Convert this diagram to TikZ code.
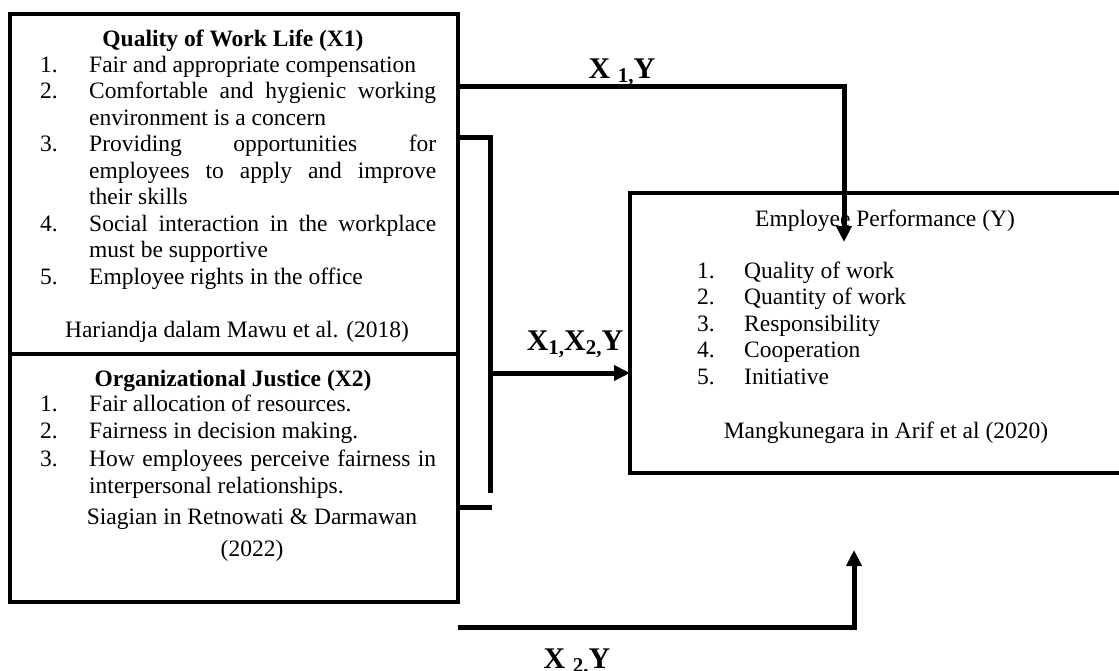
\documentclass[tikz,border=0pt]{standalone}
\usepackage{fontspec}
\setmainfont{Liberation Serif}
\usepackage{tikz}
\usetikzlibrary{positioning, calc, arrows.meta}
\tolerance=10000
\hyphenpenalty=10000
\newcommand{\bodyfont}{\fontsize{23.5}{26.5}\selectfont}
\newcommand{\linkfont}{\fontsize{30}{32}\selectfont\bfseries}
\newcommand{\lowidx}[1]{\raisebox{-4pt}{\fontsize{21}{21}\selectfont #1}}
\newcommand{\entry}[2]{\hangindent=49pt\hangafter=1\makebox[49pt][l]{#1}#2\par}

\begin{document}
\begin{tikzpicture}[x=1pt, y=-1pt,
	box/.style={draw, line width=4pt, inner sep=0pt, outer sep=0pt, anchor=north west},
	txt/.style={inner sep=0pt, font=\bodyfont},
	list/.style={txt, anchor=base west, text width=396pt, align=justify},
	conn/.style={line width=5pt},
	tip/.style={-{Triangle[width=15pt, length=16pt]}},
	lab/.style={inner sep=0pt, anchor=base, font=\linkfont}]
		\useasboundingbox (0,0) rectangle (1119,670);
		\node[box, minimum width=448pt, minimum height=340pt] (qwl) at (10,14) {};
		\node[box, minimum width=448pt, minimum height=248pt] (oj) at (10,354) {};
		\node[box, minimum width=520pt, minimum height=280pt] (perf) at (630,193) {};
		
		\node[txt, anchor=base, font=\bodyfont\bfseries] (qwltitle) at (233,46) {Quality of Work Life (X1)};
		\node[list] (qwllist) at (40,72) {\entry{1.}{Fair and appropriate compensation}\entry{2.}{Comfortable and hygienic working\linebreak environment is a concern}\entry{3.}{Providing opportunities for\linebreak employees to apply and improve\linebreak their skills}\entry{4.}{Social interaction in the workplace\linebreak must be supportive}\entry{5.}{Employee rights in the office}};
		\node[txt, anchor=base] (qwlsrc) at (237,337) {Hariandja dalam Mawu et al. (2018)};
		
		\node[txt, anchor=base, font=\bodyfont\bfseries] (ojtitle) at (233,386) {Organizational Justice (X2)};
		\node[list, font=\fontsize{23.5}{27.6}\selectfont] (ojlist) at (40,411) {\entry{1.}{Fair allocation of resources.}\entry{2.}{Fairness in decision making.}\entry{3.}{How employees perceive fairness in\linebreak interpersonal relationships.}};
		\node[txt, anchor=base, align=center] (ojsrc) at (252,556) {Siagian in Retnowati \& Darmawan\\[5pt](2022)};
		
		\node[txt, anchor=base] (perftitle) at (885,226) {Employee Performance (Y)};
		\node[txt, anchor=base west] (perflist) at (697,278) {\begin{tabular}[t]{@{}p{47pt}@{}l@{}}1. & Quality of work\\ 2. & Quantity of work\\ 3. & Responsibility\\ 4. & Cooperation\\ 5. & Initiative\end{tabular}};
		\node[txt, anchor=base] (perfsrc) at (886,438) {Mangkunegara in Arif et al (2020)};
		
		\coordinate (d1) at (844,242);
		\coordinate (br) at (490,493);
		\coordinate (bm) at (490,373);
		\coordinate (st) at (492,507);
		\coordinate (d2) at (854,550);
		\draw[conn, tip] (qwl.east |- 0,86) -| (d1);
		\draw[conn] (qwl.east |- 0,137) -| (br);
		\draw[conn] (oj.east |- 0,507) -- (st);
		\draw[conn, tip] (bm) -- (perf.west |- bm);
		\draw[conn, tip] (oj.east |- 0,627) -| (d2);
		
		\node[lab] (l1) at (622,78) {X \lowidx{1,}Y};
		\node[lab] (l12) at (575,350) {X\lowidx{1,}X\lowidx{2,}Y};
		\node[lab] (l2) at (577,668) {X \lowidx{2,}Y};
\end{tikzpicture}
\end{document}
